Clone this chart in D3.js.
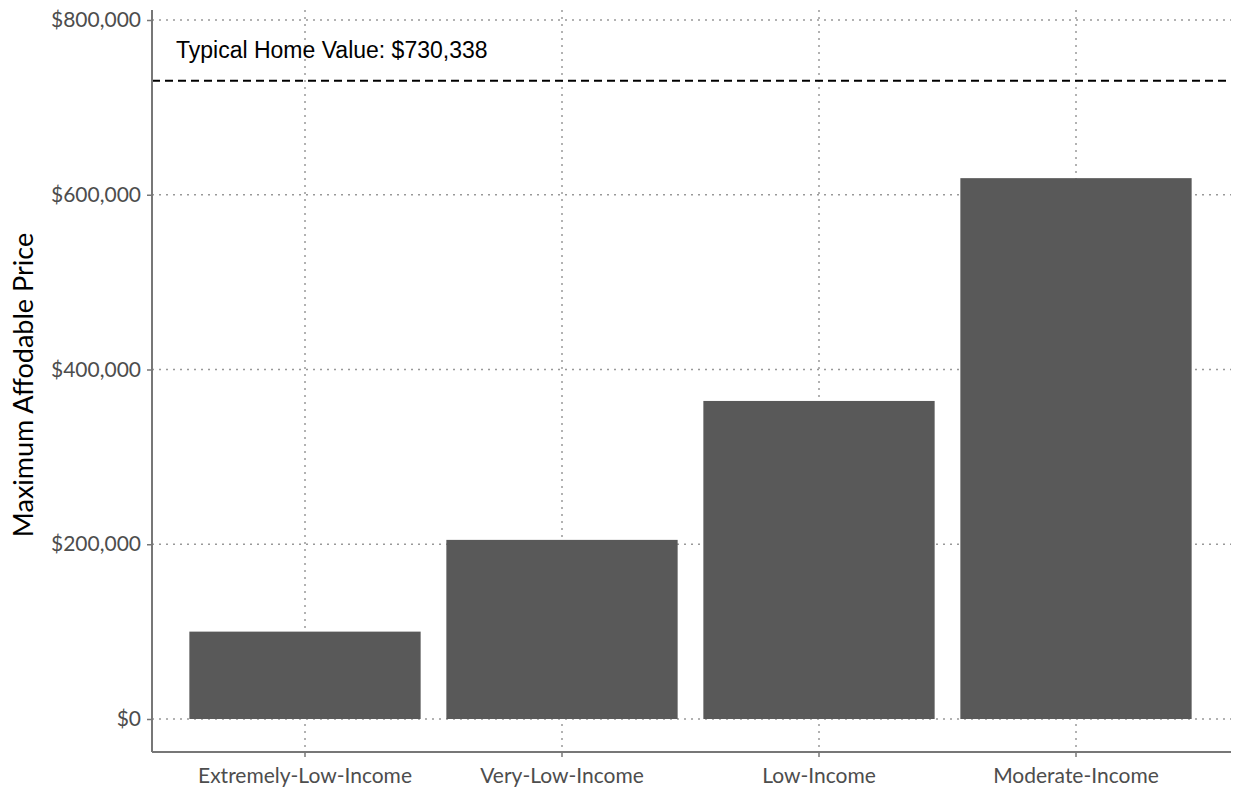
<!DOCTYPE html>
<html><head><meta charset="utf-8">
<script src="https://cdn.jsdelivr.net/npm/d3@7"></script>
<style>body{margin:0;background:#fff}</style>
</head><body>
<svg id="svg" width="1235" height="787"></svg>
<script>
const categories = ['Extremely-Low-Income', 'Very-Low-Income', 'Low-Income', 'Moderate-Income']
const prices = [100000, 205000, 364000, 619000]
const typicalValue = 730338
const yTicks = [0, 200000, 400000, 600000, 800000]

const svg = d3.select('#svg')
const plotLeft = 152, plotRight = 1231, plotBottom = 752, plotTop = 10

const xScale = d3.scaleBand().domain(categories).range([176.5, 1204.5]).paddingInner(0.1).paddingOuter(0.05)
const yScale = d3.scaleLinear().domain([0, 800000]).range([719, 20])
const fmt = d => '$' + d3.format(',')(d)

// grid
svg.append('g').selectAll('line').data(yTicks).enter().append('line')
  .attr('x1', plotLeft).attr('x2', plotRight)
  .attr('y1', d => yScale(d)).attr('y2', d => yScale(d))
  .attr('stroke', '#999').attr('stroke-width', 1.5).attr('stroke-dasharray', '2,5')
svg.append('g').selectAll('line').data(categories).enter().append('line')
  .attr('x1', d => xScale(d) + xScale.bandwidth() / 2).attr('x2', d => xScale(d) + xScale.bandwidth() / 2)
  .attr('y1', plotTop).attr('y2', plotBottom)
  .attr('stroke', '#999').attr('stroke-width', 1.5).attr('stroke-dasharray', '2,5')

// bars
svg.append('g').selectAll('rect').data(prices).enter().append('rect')
  .attr('x', (d, i) => xScale(categories[i]))
  .attr('y', d => yScale(d))
  .attr('width', xScale.bandwidth())
  .attr('height', d => yScale(0) - yScale(d))
  .attr('fill', '#595959')

// typical value line
svg.append('line')
  .attr('x1', plotLeft).attr('x2', plotRight)
  .attr('y1', yScale(typicalValue)).attr('y2', yScale(typicalValue))
  .attr('stroke', '#000').attr('stroke-width', 2).attr('stroke-dasharray', '8,5')
svg.append('text').attr('x', 176).attr('y', 58)
  .attr('font-family', 'Liberation Sans, Arial').attr('font-size', 23)
  .text('Typical Home Value: ' + fmt(typicalValue))

// axes
const xAxis = svg.append('g').attr('transform', `translate(0, ${plotBottom})`)
  .call(d3.axisBottom(xScale).tickSize(5).tickPadding(11))
const yAxis = svg.append('g').attr('transform', `translate(${plotLeft}, 0)`)
  .call(d3.axisLeft(yScale).tickValues(yTicks).tickFormat(fmt).tickSize(5).tickPadding(6))
for (const ax of [xAxis, yAxis]) {
  ax.select('.domain').remove()
  ax.selectAll('line').attr('stroke', '#777').attr('stroke-width', 1.5)
  ax.selectAll('text').attr('fill', '#4d4d4d').attr('font-family', 'Lato, sans-serif').attr('font-size', 21)
}
svg.append('line').attr('x1', plotLeft).attr('x2', plotLeft).attr('y1', plotTop).attr('y2', plotBottom).attr('stroke', '#777').attr('stroke-width', 2)
svg.append('line').attr('x1', plotLeft).attr('x2', plotRight).attr('y1', plotBottom).attr('y2', plotBottom).attr('stroke', '#777').attr('stroke-width', 2)

svg.append('text').attr('transform', 'translate(33, 385) rotate(-90)')
  .attr('text-anchor', 'middle').attr('font-family', 'Lato, sans-serif').attr('font-size', 27)
  .text('Maximum Affodable Price')
</script>
</body></html>
